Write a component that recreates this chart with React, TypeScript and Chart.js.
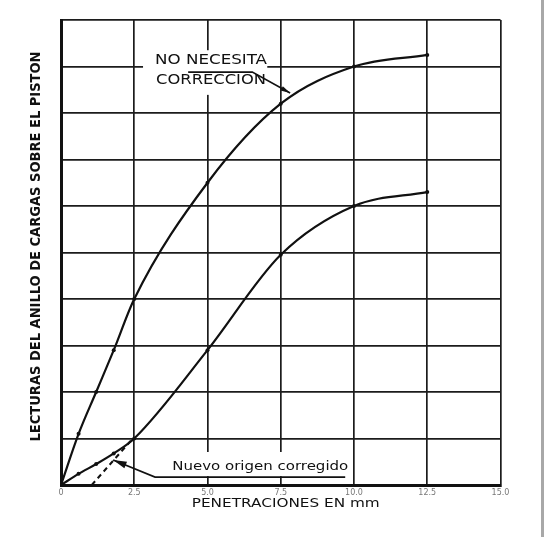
import React, { useEffect, useRef } from "react";
import { Chart, registerables } from "chart.js";

Chart.register(...registerables);

// ---- data ----
const penetrations = [0, 0.6, 1.2, 1.8, 2.5, 5.0, 7.5, 10.0, 12.5];
const loadsNoCorrection = [0, 1.1, 2.0, 2.9, 4.0, 6.5, 8.2, 9.0, 9.25];
const loadsCorrected = [0, 0.24, 0.45, 0.68, 1.0, 2.9, 4.95, 6.0, 6.3];
const correctedOriginX = [1.05, 2.45];
const correctedOriginY = [0, 1.0];
const xTickLabels = ["0", "2.5", "5.0", "7.5", "10.0", "12.5", "15.0"];

const xTitle = "PENETRACIONES EN mm";
const yTitle = "LECTURAS DEL ANILLO DE CARGAS SOBRE EL PISTON";
const upperNoteLines = ["NO NECESITA", "CORRECCION"];
const lowerNote = "Nuevo origen corregido";

// annotation anchors in data units
const upperNote = {
  box: [2.8, 7.04, 8.39, 9.35],
  textX: 5.12,
  lineY: [9.14, 8.71],
  leader: [
    [4.34, 8.88],
    [6.53, 8.88],
    [7.82, 8.43],
  ],
};
const lowerNoteAnchor = {
  box: [3.04, 9.87, 0.19, 0.71],
  textX: 6.8,
  textY: 0.39,
  leader: [
    [9.7, 0.17],
    [3.21, 0.17],
    [1.78, 0.54],
  ],
};

const INK = "#111111";

function fitText(ctx: CanvasRenderingContext2D, text: string, cx: number, cy: number, width: number) {
  const w = ctx.measureText(text).width;
  ctx.save();
  ctx.translate(cx, cy);
  ctx.scale(width / w, 1);
  ctx.textAlign = "center";
  ctx.textBaseline = "middle";
  ctx.fillText(text, 0, 0);
  ctx.restore();
}

function arrow(ctx: CanvasRenderingContext2D, pts: number[][], head: number) {
  ctx.beginPath();
  ctx.moveTo(pts[0][0], pts[0][1]);
  for (let i = 1; i < pts.length; i++) ctx.lineTo(pts[i][0], pts[i][1]);
  ctx.stroke();
  const [ax, ay] = pts[pts.length - 2];
  const [bx, by] = pts[pts.length - 1];
  const ang = Math.atan2(by - ay, bx - ax);
  ctx.beginPath();
  ctx.moveTo(bx, by);
  ctx.lineTo(bx - head * Math.cos(ang - 0.25), by - head * Math.sin(ang - 0.25));
  ctx.lineTo(bx - head * Math.cos(ang + 0.25), by - head * Math.sin(ang + 0.25));
  ctx.closePath();
  ctx.fill();
}

const notesPlugin = {
  id: "notes",
  beforeDraw(chart: any) {
    const { ctx, width, height } = chart;
    ctx.save();
    ctx.fillStyle = "#ffffff";
    ctx.fillRect(0, 0, width, height);
    ctx.fillStyle = "#a8a8a8";
    ctx.fillRect(width - 4, 0, 3, height);
    ctx.restore();
  },
  afterDatasetsDraw(chart: any) {
    const { ctx } = chart;
    const xs = chart.scales.x;
    const ys = chart.scales.y;
    const X = (v: number) => xs.getPixelForValue(v);
    const Y = (v: number) => ys.getPixelForValue(v);
    ctx.save();
    ctx.fillStyle = "#ffffff";
    for (const b of [upperNote.box, lowerNoteAnchor.box]) {
      ctx.fillRect(X(b[0]), Y(b[3]), X(b[1]) - X(b[0]), Y(b[2]) - Y(b[3]));
    }
    ctx.fillStyle = INK;
    ctx.strokeStyle = INK;
    ctx.lineWidth = 1.6;
    ctx.font = "14px 'DejaVu Sans'";
    fitText(ctx, upperNoteLines[0], X(upperNote.textX), Y(upperNote.lineY[0]), 112);
    fitText(ctx, upperNoteLines[1], X(upperNote.textX), Y(upperNote.lineY[1]), 110);
    arrow(ctx, upperNote.leader.map(([a, b]) => [X(a), Y(b)]), 10);
    ctx.font = "13px 'DejaVu Sans'";
    fitText(ctx, lowerNote, X(lowerNoteAnchor.textX), Y(lowerNoteAnchor.textY), 176);
    arrow(ctx, lowerNoteAnchor.leader.map(([a, b]) => [X(a), Y(b)]), 14);
    ctx.restore();
  },
  afterDraw(chart: any) {
    const { ctx, chartArea } = chart;
    ctx.save();
    ctx.fillStyle = INK;
    ctx.font = "13px 'DejaVu Sans'";
    fitText(ctx, xTitle, (chartArea.left + chartArea.right) / 2 + 5, 504, 188);
    ctx.font = "bold 14px 'DejaVu Sans Condensed', 'DejaVu Sans'";
    ctx.translate(36, (chartArea.top + chartArea.bottom) / 2 - 6);
    ctx.rotate(-Math.PI / 2);
    fitText(ctx, yTitle, 0, 0, 390);
    ctx.restore();
  },
};

export default function App() {
  const ref = useRef<HTMLCanvasElement | null>(null);
  useEffect(() => {
    if (!ref.current) return;
    const toXY = (xv: number[], yv: number[]) => xv.map((x, i) => ({ x, y: yv[i] }));
    const lineStyle = {
      borderColor: INK,
      backgroundColor: INK,
      borderWidth: 2.2,
      pointRadius: 2,
      pointBackgroundColor: INK,
      pointBorderWidth: 0,
      cubicInterpolationMode: "monotone" as const,
      fill: false,
    };
    const chart = new Chart(ref.current, {
      type: "line",
      data: {
        datasets: [
          { label: upperNoteLines.join(" "), data: toXY(penetrations, loadsNoCorrection), ...lineStyle },
          { label: "Corregida", data: toXY(penetrations, loadsCorrected), ...lineStyle },
          {
            label: lowerNote,
            data: toXY(correctedOriginX, correctedOriginY),
            borderColor: INK,
            borderWidth: 2,
            borderDash: [5, 4],
            pointRadius: 0,
            fill: false,
          },
        ],
      },
      plugins: [notesPlugin],
      options: {
        animation: false,
        responsive: false,
        devicePixelRatio: 1,
        layout: { padding: { top: 20, right: 44.5, left: 0, bottom: 0 } },
        plugins: { legend: { display: false }, tooltip: { enabled: false } },
        scales: {
          x: {
            type: "linear",
            min: 0,
            max: 15,
            afterFit: (s: any) => {
              s.height = 52;
            },
            ticks: {
              stepSize: 2.5,
              padding: 3,
              color: "#777777",
              font: { family: "'DejaVu Sans'", size: 8 },
              callback: (_v: any, i: number) => xTickLabels[i],
            },
            grid: { color: "#1c1c1c", lineWidth: 1.7, drawTicks: false },
            border: { color: INK, width: 3 },
          },
          y: {
            type: "linear",
            min: 0,
            max: 10,
            afterFit: (s: any) => {
              s.width = 61;
            },
            ticks: { stepSize: 1, display: false },
            grid: { color: "#1c1c1c", lineWidth: 1.7, drawTicks: false },
            border: { color: INK, width: 3 },
          },
        },
      },
    });
    return () => chart.destroy();
  }, []);
  return (
    <div style={{ position: "fixed", left: 0, top: 0, width: 545, height: 537, background: "#fff" }}>
      <canvas ref={ref} width={545} height={537} style={{ width: 545, height: 537, display: "block" }} />
    </div>
  );
}
